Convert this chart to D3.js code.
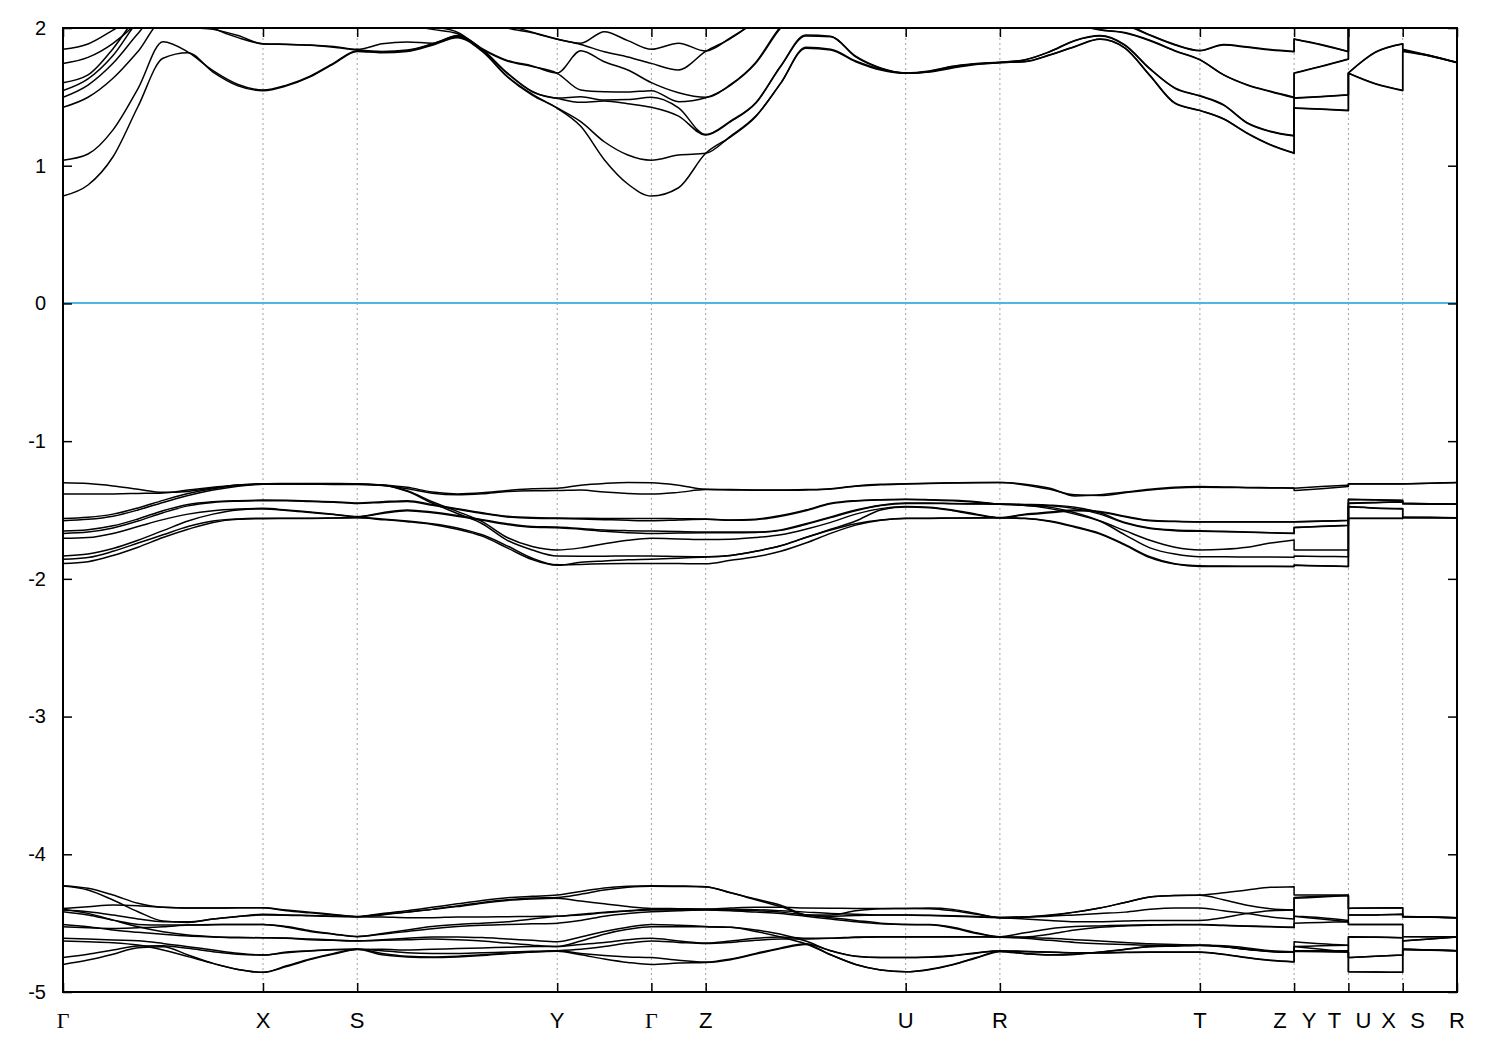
<!DOCTYPE html>
<html><head><meta charset="utf-8">
<script src="https://cdn.jsdelivr.net/npm/d3@7"></script>
<style>body{margin:0;background:#fff}</style>
</head><body><svg id="c" width="1500" height="1050"></svg>
<script>
// ---------- k path ----------
const kLabels = ["Γ","X","S","Y","Γ","Z","U","R","T","Z|Y","T|U","X|S","R"];
const kTicks  = [0, 2.000, 2.942, 4.942, 5.884, 6.427, 8.427, 9.369, 11.369, 12.311, 12.854, 13.397, 13.940];
const segDivs = [8, 4, 8, 4, 2, 8, 4, 8, 4, 2, 2, 2];
const pieceSegs = [[0, 9], [9, 10], [10, 11], [11, 12]];
const yTicks = [-5, -4, -3, -2, -1, 0, 1, 2];
const fermiLevel = 0;

// ---------- conduction bands (eV) ----------
const cond1 = [0.78,0.86,1.065,1.43,1.78,1.82,1.68,1.58,1.545, 1.58,1.645,1.74,1.83, 1.82,1.83,1.875,1.93,1.83,1.646,1.513,1.417, 1.286,1.044,0.867,0.78, 0.84,1.09, 1.21,1.356,1.598,1.853,1.84,1.755,1.695,1.671, 1.68,1.71,1.735,1.748, 1.755,1.804,1.864,1.918,1.853,1.654,1.453,1.40, 1.339,1.235,1.15,1.09, 1.417,1.41,1.40, 1.671,1.593,1.545, 1.83,1.797,1.748];
const cond2 = [1.04,1.085,1.26,1.56,1.90,1.825,1.69,1.59,1.55, 1.585,1.65,1.745,1.835, 1.825,1.835,1.88,1.935,1.835,1.65,1.52,1.42, 1.32,1.174,1.078,1.04, 1.078,1.09, 1.215,1.36,1.60,1.86,1.845,1.76,1.70,1.672, 1.683,1.715,1.738,1.749, 1.757,1.806,1.866,1.92,1.856,1.657,1.456,1.402, 1.342,1.238,1.153,1.092, 1.42,1.412,1.402, 1.672,1.596,1.548, 1.835,1.80,1.749];
const cond3 = [1.424,1.497,1.635,1.83,2.05,2.005,1.99,1.945,1.884, 1.88,1.875,1.86,1.84, 1.83,1.84,1.885,1.94,1.84,1.67,1.537,1.489, 1.46,1.47,1.45,1.424, 1.36,1.223, 1.32,1.453,1.72,1.942,1.937,1.79,1.707,1.673, 1.685,1.72,1.74,1.75, 1.768,1.828,1.908,1.942,1.874,1.702,1.562,1.506, 1.44,1.31,1.247,1.216, 1.489,1.50,1.513, 1.673,1.823,1.884, 1.84,1.797,1.75];
const cond4 = [1.497,1.586,1.744,1.96,2.15,2.1,2.0,1.93,1.886, 1.882,1.877,1.865,1.845, 1.885,1.898,1.89,1.945,1.845,1.675,1.54,1.492, 1.50,1.477,1.48,1.497, 1.42,1.226, 1.325,1.457,1.725,1.95,1.94,1.795,1.71,1.674, 1.688,1.722,1.742,1.752, 1.77,1.83,1.91,1.945,1.877,1.705,1.565,1.508, 1.443,1.313,1.25,1.219, 1.492,1.503,1.515, 1.674,1.826,1.886, 1.845,1.80,1.752];
const cond5 = [1.545,1.63,1.80,2.05,2.2,2.2,2.15,2.1,2.05, 2.05,2.08,2.1,2.1, 2.05,2.02,1.99,1.96,1.845,1.76,1.72,1.671, 1.55,1.537,1.535,1.545, 1.465,1.494, 1.586,1.744,2.0,2.15,2.2,2.2,2.2,2.2, 2.2,2.2,2.2,2.2, 2.15,2.1,2.03,1.985,1.964,1.908,1.833,1.768, 1.659,1.586,1.537,1.494, 1.671,1.72,1.773, 2.1,2.0,2.1, 2.1,2.1,2.1];
const cond6 = [1.603,1.659,1.85,2.1,2.3,2.3,2.25,2.2,2.15, 2.15,2.15,2.15,2.15, 2.1,2.05,2.01,1.97,1.85,1.765,1.725,1.674, 1.835,1.755,1.695,1.603, 1.53,1.497, 1.59,1.75,2.01,2.15,2.25,2.25,2.25,2.25, 2.25,2.25,2.25,2.25, 2.16,2.11,2.04,1.99,1.967,1.911,1.836,1.77, 1.662,1.589,1.54,1.497, 1.674,1.723,1.775, 2.2,2.2,2.2, 2.2,2.2,2.2];
const cond7 = [1.743,1.787,1.889,2.05,2.3,2.4,2.4,2.4,2.4, 2.4,2.4,2.4,2.4, 2.3,2.25,2.2,2.12,2.06,2.0,1.966,1.918, 1.88,1.828,1.79,1.743, 1.695,1.83, 1.925,2.05,2.2,2.3,2.3,2.3,2.3,2.3, 2.3,2.3,2.3,2.3, 2.25,2.2,2.1,2.05,2.02,1.947,1.877,1.835, 1.877,1.86,1.84,1.828, 1.918,1.877,1.828, 2.3,2.3,2.3, 2.3,2.3,2.3];
const cond8 = [1.845,1.884,1.985,2.1,2.4,2.5,2.5,2.5,2.5, 2.5,2.5,2.5,2.5, 2.4,2.3,2.25,2.15,2.08,2.02,1.97,1.92, 1.89,1.973,1.908,1.845, 1.89,1.833, 1.93,2.06,2.3,2.4,2.4,2.4,2.4,2.4, 2.4,2.4,2.4,2.4, 2.26,2.21,2.11,2.06,2.03,1.95,1.88,1.837, 1.88,1.863,1.843,1.83, 1.92,1.88,1.83, 2.4,2.4,2.4, 2.4,2.4,2.4];

// ---------- upper valence group (eV) ----------
const val1 = [-1.302,-1.308,-1.325,-1.35,-1.372,-1.365,-1.34,-1.318,-1.310, -1.308,-1.307,-1.308,-1.31, -1.318,-1.335,-1.37,-1.383,-1.375,-1.358,-1.345,-1.342, -1.32,-1.307,-1.30,-1.302, -1.32,-1.35, -1.352,-1.354,-1.355,-1.352,-1.345,-1.325,-1.313,-1.31, -1.305,-1.302,-1.30,-1.30, -1.313,-1.342,-1.398,-1.39,-1.37,-1.35,-1.335,-1.33, -1.333,-1.336,-1.338,-1.34, -1.342,-1.33,-1.32, -1.31,-1.31,-1.31, -1.31,-1.305,-1.30];
const val2 = [-1.384,-1.384,-1.383,-1.38,-1.376,-1.355,-1.335,-1.318,-1.311, -1.309,-1.309,-1.31,-1.311, -1.322,-1.345,-1.378,-1.39,-1.382,-1.366,-1.36,-1.359, -1.355,-1.37,-1.38,-1.384, -1.372,-1.352, -1.354,-1.356,-1.357,-1.354,-1.347,-1.328,-1.316,-1.311, -1.307,-1.304,-1.302,-1.301, -1.318,-1.35,-1.39,-1.395,-1.375,-1.355,-1.34,-1.335, -1.336,-1.338,-1.34,-1.342, -1.359,-1.345,-1.33, -1.312,-1.312,-1.312, -1.312,-1.306,-1.301];
const val3 = [-1.561,-1.553,-1.53,-1.485,-1.43,-1.38,-1.345,-1.322,-1.312, -1.311,-1.312,-1.313,-1.313, -1.318,-1.36,-1.44,-1.51,-1.585,-1.70,-1.765,-1.79, -1.775,-1.745,-1.72,-1.706, -1.71,-1.715, -1.712,-1.70,-1.68,-1.64,-1.59,-1.53,-1.49,-1.475, -1.48,-1.50,-1.53,-1.555, -1.53,-1.515,-1.50,-1.51,-1.545,-1.575,-1.582,-1.585, -1.585,-1.585,-1.585,-1.585, -1.585,-1.58,-1.575, -1.475,-1.485,-1.49, -1.55,-1.553,-1.557];
const val4 = [-1.578,-1.568,-1.545,-1.50,-1.445,-1.395,-1.355,-1.327,-1.313, -1.312,-1.313,-1.314,-1.315, -1.32,-1.365,-1.45,-1.525,-1.60,-1.72,-1.79,-1.834, -1.835,-1.835,-1.834,-1.834, -1.838,-1.84, -1.83,-1.80,-1.76,-1.70,-1.64,-1.58,-1.50,-1.478, -1.483,-1.505,-1.535,-1.557, -1.535,-1.52,-1.505,-1.515,-1.55,-1.578,-1.584,-1.587, -1.587,-1.587,-1.587,-1.587, -1.587,-1.582,-1.577, -1.477,-1.487,-1.492, -1.552,-1.555,-1.558];
const val5 = [-1.653,-1.643,-1.615,-1.565,-1.505,-1.46,-1.44,-1.432,-1.428, -1.43,-1.435,-1.44,-1.45, -1.44,-1.432,-1.46,-1.49,-1.52,-1.545,-1.555,-1.558, -1.56,-1.562,-1.562,-1.561, -1.563,-1.565, -1.572,-1.567,-1.54,-1.50,-1.451,-1.432,-1.425,-1.422, -1.425,-1.43,-1.44,-1.457, -1.46,-1.465,-1.48,-1.52,-1.59,-1.63,-1.645,-1.65, -1.655,-1.66,-1.665,-1.669, -1.626,-1.618,-1.61, -1.422,-1.425,-1.43, -1.45,-1.455,-1.457];
const val6 = [-1.670,-1.66,-1.63,-1.58,-1.52,-1.47,-1.445,-1.436,-1.432, -1.433,-1.438,-1.443,-1.452, -1.445,-1.438,-1.466,-1.495,-1.525,-1.55,-1.56,-1.562, -1.565,-1.57,-1.575,-1.578, -1.572,-1.567, -1.575,-1.57,-1.545,-1.505,-1.455,-1.435,-1.427,-1.424, -1.427,-1.433,-1.443,-1.458, -1.462,-1.47,-1.49,-1.53,-1.595,-1.635,-1.65,-1.655, -1.658,-1.662,-1.666,-1.67, -1.628,-1.62,-1.612, -1.424,-1.427,-1.432, -1.452,-1.456,-1.458];
const val7 = [-1.706,-1.70,-1.67,-1.62,-1.57,-1.53,-1.505,-1.493,-1.488, -1.50,-1.515,-1.53,-1.548, -1.52,-1.50,-1.515,-1.54,-1.57,-1.60,-1.62,-1.624, -1.635,-1.645,-1.65,-1.653, -1.657,-1.66, -1.66,-1.66,-1.645,-1.60,-1.55,-1.50,-1.465,-1.45, -1.45,-1.453,-1.455,-1.457, -1.465,-1.49,-1.53,-1.58,-1.65,-1.72,-1.77,-1.79, -1.785,-1.77,-1.74,-1.718, -1.79,-1.79,-1.79, -1.45,-1.445,-1.44, -1.452,-1.456,-1.458];
const val8 = [-1.834,-1.82,-1.78,-1.72,-1.65,-1.58,-1.53,-1.50,-1.492, -1.503,-1.518,-1.533,-1.55, -1.525,-1.505,-1.52,-1.545,-1.575,-1.605,-1.625,-1.628, -1.64,-1.655,-1.665,-1.670, -1.667,-1.665, -1.665,-1.663,-1.648,-1.605,-1.555,-1.505,-1.468,-1.452, -1.452,-1.455,-1.456,-1.458, -1.467,-1.48,-1.52,-1.58,-1.68,-1.775,-1.82,-1.84, -1.84,-1.841,-1.842,-1.843, -1.834,-1.837,-1.84, -1.452,-1.447,-1.442, -1.454,-1.457,-1.459];
const val9 = [-1.858,-1.845,-1.80,-1.74,-1.68,-1.62,-1.58,-1.565,-1.56, -1.56,-1.56,-1.558,-1.555, -1.565,-1.58,-1.60,-1.63,-1.68,-1.76,-1.85,-1.898, -1.895,-1.89,-1.888,-1.888, -1.889,-1.89, -1.865,-1.84,-1.80,-1.74,-1.67,-1.61,-1.575,-1.56, -1.56,-1.558,-1.557,-1.556, -1.56,-1.58,-1.62,-1.67,-1.75,-1.84,-1.89,-1.905, -1.907,-1.908,-1.909,-1.91, -1.90,-1.905,-1.91, -1.56,-1.56,-1.56, -1.555,-1.556,-1.557];
const val10 = [-1.888,-1.875,-1.83,-1.77,-1.70,-1.64,-1.59,-1.568,-1.563, -1.562,-1.561,-1.559,-1.557, -1.57,-1.585,-1.605,-1.64,-1.69,-1.775,-1.86,-1.902, -1.88,-1.87,-1.862,-1.858, -1.85,-1.842, -1.83,-1.80,-1.76,-1.70,-1.645,-1.60,-1.572,-1.562, -1.561,-1.559,-1.558,-1.557, -1.562,-1.583,-1.625,-1.675,-1.755,-1.845,-1.893,-1.91, -1.91,-1.911,-1.911,-1.911, -1.902,-1.906,-1.911, -1.562,-1.562,-1.562, -1.557,-1.557,-1.557];

// ---------- lower valence group (eV) ----------
const low1 = [-4.228,-4.247,-4.296,-4.356,-4.385,-4.39,-4.39,-4.389,-4.389, -4.41,-4.425,-4.44,-4.453, -4.43,-4.41,-4.385,-4.36,-4.335,-4.315,-4.305,-4.296, -4.27,-4.245,-4.232,-4.228, -4.23,-4.235, -4.28,-4.33,-4.38,-4.44,-4.44,-4.41,-4.395,-4.393, -4.39,-4.40,-4.43,-4.46, -4.455,-4.445,-4.42,-4.39,-4.35,-4.31,-4.30,-4.296, -4.28,-4.26,-4.24,-4.235, -4.296,-4.296,-4.296, -4.393,-4.39,-4.389, -4.453,-4.456,-4.46];
const low2 = [-4.230,-4.259,-4.332,-4.417,-4.485,-4.495,-4.47,-4.451,-4.436, -4.44,-4.445,-4.45,-4.453, -4.44,-4.42,-4.40,-4.375,-4.35,-4.33,-4.318,-4.314, -4.29,-4.26,-4.24,-4.232, -4.234,-4.237, -4.28,-4.325,-4.37,-4.44,-4.45,-4.445,-4.44,-4.441, -4.443,-4.447,-4.452,-4.458, -4.455,-4.45,-4.44,-4.43,-4.42,-4.40,-4.39,-4.39, -4.41,-4.43,-4.455,-4.47, -4.314,-4.305,-4.30, -4.441,-4.44,-4.436, -4.453,-4.456,-4.46];
const low3 = [-4.393,-4.381,-4.368,-4.373,-4.385,-4.39,-4.39,-4.389,-4.389, -4.405,-4.42,-4.437,-4.452, -4.435,-4.42,-4.40,-4.38,-4.355,-4.335,-4.325,-4.32, -4.34,-4.36,-4.38,-4.393, -4.395,-4.397, -4.39,-4.385,-4.385,-4.39,-4.392,-4.393,-4.393,-4.393, -4.395,-4.41,-4.435,-4.46, -4.455,-4.44,-4.42,-4.39,-4.35,-4.31,-4.30,-4.298, -4.33,-4.37,-4.395,-4.405, -4.32,-4.31,-4.30, -4.393,-4.39,-4.389, -4.452,-4.456,-4.46];
const low4 = [-4.405,-4.417,-4.441,-4.47,-4.49,-4.49,-4.47,-4.451,-4.441, -4.442,-4.447,-4.451,-4.454, -4.455,-4.46,-4.46,-4.455,-4.455,-4.453,-4.451,-4.45, -4.435,-4.42,-4.41,-4.40, -4.40,-4.40, -4.40,-4.402,-4.41,-4.42,-4.43,-4.435,-4.44,-4.441, -4.445,-4.45,-4.455,-4.46, -4.47,-4.48,-4.49,-4.49,-4.485,-4.48,-4.48,-4.48, -4.46,-4.43,-4.41,-4.405, -4.45,-4.46,-4.48, -4.441,-4.44,-4.436, -4.454,-4.457,-4.46];
const low5 = [-4.417,-4.441,-4.478,-4.509,-4.514,-4.514,-4.512,-4.509,-4.509, -4.53,-4.56,-4.58,-4.598, -4.575,-4.55,-4.525,-4.51,-4.50,-4.49,-4.47,-4.45, -4.44,-4.425,-4.412,-4.405, -4.405,-4.403, -4.405,-4.41,-4.42,-4.44,-4.46,-4.48,-4.50,-4.509, -4.51,-4.53,-4.57,-4.598, -4.57,-4.54,-4.525,-4.52,-4.515,-4.512,-4.51,-4.51, -4.515,-4.52,-4.525,-4.53, -4.45,-4.47,-4.49, -4.509,-4.509,-4.509, -4.598,-4.599,-4.60];
const low6 = [-4.509,-4.526,-4.55,-4.567,-4.581,-4.593,-4.60,-4.606,-4.606, -4.61,-4.62,-4.625,-4.63, -4.62,-4.61,-4.60,-4.60,-4.605,-4.615,-4.625,-4.635, -4.60,-4.56,-4.53,-4.509, -4.515,-4.524, -4.53,-4.55,-4.58,-4.63,-4.70,-4.74,-4.75,-4.75, -4.745,-4.735,-4.715,-4.70, -4.705,-4.71,-4.715,-4.715,-4.712,-4.71,-4.71,-4.71, -4.725,-4.75,-4.77,-4.78, -4.635,-4.65,-4.66, -4.75,-4.74,-4.731, -4.63,-4.615,-4.60];
const low7 = [-4.526,-4.533,-4.538,-4.533,-4.526,-4.514,-4.509,-4.509,-4.509, -4.525,-4.555,-4.578,-4.597, -4.58,-4.56,-4.54,-4.525,-4.515,-4.51,-4.505,-4.50, -4.48,-4.45,-4.43,-4.417, -4.41,-4.405, -4.41,-4.42,-4.43,-4.45,-4.47,-4.49,-4.505,-4.51, -4.512,-4.535,-4.575,-4.60, -4.60,-4.58,-4.55,-4.53,-4.52,-4.515,-4.512,-4.512, -4.518,-4.522,-4.527,-4.532, -4.50,-4.495,-4.49, -4.51,-4.51,-4.51, -4.597,-4.599,-4.60];
const low8 = [-4.61,-4.615,-4.623,-4.628,-4.647,-4.671,-4.695,-4.719,-4.731, -4.71,-4.70,-4.692,-4.688, -4.72,-4.74,-4.745,-4.74,-4.73,-4.72,-4.71,-4.70, -4.72,-4.735,-4.745,-4.75, -4.77,-4.783, -4.76,-4.72,-4.68,-4.65,-4.70,-4.74,-4.75,-4.75, -4.748,-4.738,-4.718,-4.702, -4.707,-4.712,-4.717,-4.717,-4.714,-4.712,-4.712,-4.712, -4.727,-4.752,-4.772,-4.782, -4.70,-4.705,-4.71, -4.75,-4.74,-4.731, -4.688,-4.695,-4.70];
const low9 = [-4.63,-4.635,-4.642,-4.659,-4.695,-4.743,-4.792,-4.836,-4.857, -4.81,-4.76,-4.72,-4.69, -4.73,-4.745,-4.75,-4.745,-4.735,-4.72,-4.71,-4.705, -4.73,-4.76,-4.785,-4.80, -4.79,-4.786, -4.765,-4.725,-4.685,-4.655,-4.73,-4.80,-4.84,-4.853, -4.838,-4.803,-4.753,-4.707, -4.722,-4.732,-4.727,-4.712,-4.692,-4.672,-4.667,-4.662, -4.672,-4.692,-4.707,-4.712, -4.705,-4.707,-4.71, -4.853,-4.855,-4.857, -4.69,-4.695,-4.70];
const low10 = [-4.75,-4.726,-4.695,-4.666,-4.664,-4.683,-4.707,-4.726,-4.731, -4.715,-4.703,-4.694,-4.689, -4.70,-4.715,-4.72,-4.72,-4.715,-4.71,-4.705,-4.70, -4.69,-4.67,-4.645,-4.63, -4.64,-4.648, -4.64,-4.625,-4.615,-4.615,-4.61,-4.605,-4.60,-4.60, -4.60,-4.60,-4.601,-4.602, -4.61,-4.625,-4.64,-4.65,-4.655,-4.66,-4.66,-4.66, -4.67,-4.69,-4.705,-4.71, -4.70,-4.70,-4.70, -4.60,-4.603,-4.606, -4.689,-4.695,-4.70];
const low11 = [-4.80,-4.768,-4.726,-4.678,-4.671,-4.731,-4.792,-4.836,-4.857, -4.815,-4.765,-4.725,-4.692, -4.69,-4.695,-4.69,-4.685,-4.68,-4.675,-4.67,-4.67, -4.63,-4.58,-4.545,-4.526, -4.526,-4.527, -4.53,-4.56,-4.60,-4.65,-4.73,-4.80,-4.84,-4.853, -4.835,-4.80,-4.75,-4.705, -4.72,-4.73,-4.725,-4.71,-4.69,-4.67,-4.665,-4.66, -4.67,-4.69,-4.705,-4.71, -4.67,-4.69,-4.71, -4.853,-4.855,-4.857, -4.692,-4.696,-4.70];
const low12 = [-4.399,-4.429,-4.478,-4.526,-4.562,-4.586,-4.598,-4.603,-4.606, -4.608,-4.615,-4.622,-4.628, -4.625,-4.62,-4.615,-4.62,-4.63,-4.645,-4.66,-4.67, -4.655,-4.64,-4.62,-4.61, -4.63,-4.645, -4.63,-4.61,-4.60,-4.61,-4.61,-4.60,-4.598,-4.598, -4.598,-4.598,-4.599,-4.60, -4.605,-4.61,-4.62,-4.63,-4.64,-4.65,-4.655,-4.66, -4.665,-4.68,-4.70,-4.708, -4.67,-4.665,-4.66, -4.598,-4.60,-4.606, -4.628,-4.615,-4.60];

const bands = [cond1,cond2,cond3,cond4,cond5,cond6,cond7,cond8,
               val1,val2,val3,val4,val5,val6,val7,val8,val9,val10,
               low1,low2,low3,low4,low5,low6,low7,low8,low9,low10,low11,low12];

// ---------- k grid along the path ----------
const kGrid = [], pieceStarts = [];
pieceSegs.forEach(([s0, s1]) => {
  pieceStarts.push(kGrid.length);
  for (let s = s0; s < s1; s++) {
    const a = kTicks[s], b = kTicks[s + 1], n = segDivs[s];
    for (let i = (s === s0 ? 0 : 1); i <= n; i++) kGrid.push(a + (b - a) * i / n);
  }
});

// ---------- drawing ----------
const svg = d3.select("#c");
const L = 63, R = 1457, T = 28, B = 992;
const x = d3.scaleLinear().domain([kTicks[0], kTicks[kTicks.length - 1]]).range([L, R]);
const y = d3.scaleLinear().domain([-5, 2]).range([B, T]);

svg.append("defs").append("clipPath").attr("id", "clip")
  .append("rect").attr("x", L).attr("y", T).attr("width", R - L).attr("height", B - T);

// vertical dotted lines at high-symmetry points
svg.append("g").selectAll("line").data(kTicks.slice(1, -1)).join("line")
  .attr("x1", d => x(d)).attr("x2", d => x(d)).attr("y1", T).attr("y2", B)
  .attr("stroke", "#a0a0a0").attr("stroke-width", 1).attr("stroke-dasharray", "2,3");

// Fermi level
const yF = Math.round(y(fermiLevel));
svg.append("line").attr("x1", L).attr("x2", R).attr("y1", yF).attr("y2", yF)
  .attr("stroke", "#4fb4e6").attr("stroke-width", 2);

// bands
const lineGen = d3.line().x(d => x(d[0])).y(d => y(d[1])).curve(d3.curveMonotoneX);
function bandPath(vals) {
  let p = "";
  pieceStarts.forEach((st, i) => {
    const en = i + 1 < pieceStarts.length ? pieceStarts[i + 1] : kGrid.length;
    const pts = d3.range(st, en).map(j => [kGrid[j], vals[j]]);
    let s = lineGen(pts);
    if (i > 0) s = "L" + s.slice(1);
    p += s;
  });
  return p;
}
svg.append("g").attr("clip-path", "url(#clip)").selectAll("path").data(bands).join("path")
  .attr("d", d => bandPath(d)).attr("fill", "none").attr("stroke", "#000")
  .attr("stroke-width", 1.5).attr("stroke-linejoin", "round");

// axes (ticks inward on all four sides)
const tk = 9;
const yAxisL = d3.axisLeft(y).tickValues(yTicks).tickSize(-tk).tickPadding(17).tickFormat(d => String(d));
const yAxisR = d3.axisRight(y).tickValues(yTicks).tickSize(-tk).tickFormat("");
const xAxisB = d3.axisBottom(x).tickValues(kTicks).tickSize(-tk).tickFormat("");
const xAxisT = d3.axisTop(x).tickValues(kTicks).tickSize(-tk).tickFormat("");
function styleAxis(g) {
  g.select(".domain").remove();
  g.selectAll(".tick line").attr("stroke", "#000").attr("stroke-width", 1.5);
  g.selectAll("text").attr("fill", "#000").style("font-family", "'Liberation Sans', Arial, sans-serif").style("font-size", "20px");
}
svg.append("g").attr("transform", `translate(${L},0)`).call(yAxisL).call(styleAxis);
svg.append("g").attr("transform", `translate(${R},0)`).call(yAxisR).call(styleAxis);
svg.append("g").attr("transform", `translate(0,${B})`).call(xAxisB).call(styleAxis);
svg.append("g").attr("transform", `translate(0,${T})`).call(xAxisT).call(styleAxis);

// frame
svg.append("rect").attr("x", L).attr("y", T).attr("width", R - L).attr("height", B - T)
  .attr("fill", "none").attr("stroke", "#000").attr("stroke-width", 2);

// k-point labels
const labG = svg.append("g");
kLabels.forEach((lab, i) => {
  const parts = lab.split("|");
  const off = parts.length > 1 ? [-14, 15] : [0];
  parts.forEach((p, j) => {
    labG.append("text").attr("x", x(kTicks[i]) + off[j]).attr("y", 1028)
      .attr("text-anchor", "middle")
      .style("font-family", p === "Γ" ? "'Liberation Serif', 'Times New Roman', serif" : "'Liberation Sans', Arial, sans-serif")
      .style("font-size", "22px").text(p);
  });
});
</script></body></html>
